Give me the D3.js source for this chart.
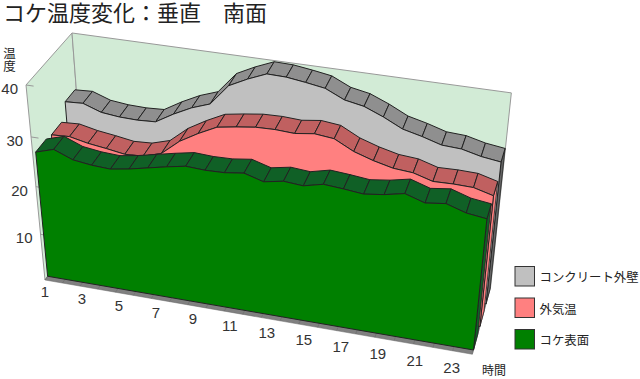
<!DOCTYPE html>
<html>
<head>
<meta charset="utf-8">
<script src="https://cdn.jsdelivr.net/npm/d3@7"></script>
<style>
  html, body { margin: 0; padding: 0; background: #fff; }
  svg { display: block; }
  text { font-family: "Noto Sans CJK JP", "Noto Sans", sans-serif; fill: #222; }
  .num { font-family: "Liberation Sans", sans-serif; fill: #333; }
</style>
</head>
<body>
<div id="chart"></div>
<script>
var hours = [1, 2, 3, 4, 5, 6, 7, 8, 9, 10, 11, 12, 13, 14, 15, 16, 17, 18, 19, 20, 21, 22, 23, 24];
var hourTicks = [1, 3, 5, 7, 9, 11, 13, 15, 17, 19, 21, 23];
var tempTicks = [10, 20, 30, 40];

var wallTemp = [28.9, 29.1, 27.8, 27.4, 27.3, 27.5, 29.6, 31.4, 32.7, 36.8, 38.6, 40.1,
  40, 39.5, 38.9, 37.2, 36.5, 35, 33.2, 32.3, 31.2, 31, 30.1, 29.6];
var airTemp = [25.9, 26.1, 25.3, 24.8, 24.2, 24.4, 25.5, 28.5, 30.6, 32.4, 33, 33.5,
  33.6, 33.4, 33.9, 33.5, 31.6, 30.4, 29.5, 29.2, 28.1, 28.2, 28.1, 27.1];
var mossTemp = [26.3, 27.4, 25.9, 25.4, 25.2, 25.8, 26.6, 27.4, 28.1, 27.9, 28, 28.5,
  27.4, 28.1, 27.8, 28.7, 28.4, 28, 28.5, 29.3, 28.1, 28.6, 27.4, 26.9];

var seriesNames = ["コンクリート外壁", "外気温", "コケ表面"];
var seriesValues = [wallTemp, airTemp, mossTemp];
var faceColors = ["#c0c0c0", "#ff8080", "#008000"];
var topColors = ["#8f8f8f", "#c06060", "#106026"];
var sideColors = ["#666666", "#ff8080", "#106026"];
var depthStart = [0.74, 0.40, 0.06];
var ribbonDepth = 0.23;

var width = 640, height = 379;

var xScale = d3.scaleLinear().domain([1, 24]).range([0, 1]);
var yScale = d3.scaleLinear().domain([0, 40]).range([0, 1]);

// hand fitted perspective, X along hours, Y up, Z into the page
function project(hour, temp, z) {
  var X = xScale(hour), Y = yScale(temp);
  var w = 1 - 0.06 * X - 0.082 * Y + 0.06 * z;
  return [
    (45 + 399 * X - 21.13 * Y + 46.55 * z) / w,
    (280 + 53 * X - 201.97 * Y - 45.76 * z) / w
  ];
}

var svg = d3.select("#chart").append("svg")
  .attr("width", width)
  .attr("height", height);

var line = d3.line();

function quad(points, fill, stroke, sw) {
  svg.append("path")
    .attr("d", line(points) + "Z")
    .attr("fill", fill)
    .attr("stroke", stroke)
    .attr("stroke-width", sw)
    .attr("stroke-linejoin", "round");
}

// walls
var first = hours[0], last = hours[hours.length - 1];
quad([project(first, 0, 0), project(first, 40, 0), project(first, 40, 1), project(first, 0, 1)], "#d2ebd6", "#999", 1);
quad([project(first, 0, 1), project(first, 40, 1), project(last, 40, 1), project(last, 0, 1)], "#d2ebd6", "#999", 1);

// floor
quad([project(first, 0, 0), project(last, 0, 0), project(last, 0, 1), project(first, 0, 1)], "#808080", "#666", 0.5);
hours.forEach(function(h) {
  svg.append("path")
    .attr("d", line([project(h, 0, 0), project(h, 0, 1)]))
    .attr("stroke", "#666")
    .attr("stroke-width", 0.5);
});

// small ticks on the front edge of the left wall
tempTicks.forEach(function(t) {
  svg.append("path")
    .attr("d", line([project(first, t, 0), project(1.4, t, 0)]))
    .attr("stroke", "#999");
});

// series back to front
seriesValues.forEach(function(values, i) {
  var z0 = depthStart[i], z1 = z0 + ribbonDepth;
  var n = hours.length;

  // right hand side
  quad([project(last, 0, z0), project(last, values[n - 1], z0),
    project(last, values[n - 1], z1), project(last, 0, z1)], sideColors[i], "#222", 0.8);

  // top ribbon
  for (var k = 0; k < n - 1; k++) {
    quad([project(hours[k], values[k], z0), project(hours[k + 1], values[k + 1], z0),
      project(hours[k + 1], values[k + 1], z1), project(hours[k], values[k], z1)], topColors[i], "#222", 1);
  }

  // front face
  var face = [project(first, 0, z0)];
  hours.forEach(function(h, k) { face.push(project(h, values[k], z0)); });
  face.push(project(last, 0, z0));
  quad(face, faceColors[i], "#222", 1);
});

// title
svg.append("text")
  .attr("x", 3)
  .attr("y", 21)
  .attr("font-size", 22)
  .text("コケ温度変化：垂直　南面");

// temperature axis, set vertically
svg.append("text")
  .attr("x", 9.5)
  .attr("y", 47)
  .attr("font-size", 12.5)
  .attr("writing-mode", "vertical-rl")
  .text("温度");

tempTicks.forEach(function(t) {
  var p = project(first, t, 0);
  svg.append("text")
    .attr("class", "num")
    .attr("x", p[0] - 8)
    .attr("y", p[1] + 9)
    .attr("text-anchor", "end")
    .attr("font-size", 15)
    .text(t);
});

// hour axis
var labelX = d3.scaleLinear().domain([1, 23]).range([45, 451.7]);
var labelY = d3.scaleLinear().domain([1, 23]).range([297, 372.5]);
hourTicks.forEach(function(h) {
  svg.append("text")
    .attr("class", "num")
    .attr("x", labelX(h))
    .attr("y", labelY(h))
    .attr("text-anchor", "middle")
    .attr("font-size", 15)
    .text(h);
});
svg.append("text").attr("x", 482).attr("y", 375).attr("font-size", 12).text("時間");

// legend
var legendY = d3.scalePoint().domain(seriesNames).range([266.5, 329.5]);
seriesNames.forEach(function(name, i) {
  svg.append("rect")
    .attr("x", 515)
    .attr("y", legendY(name))
    .attr("width", 19.5)
    .attr("height", 19.5)
    .attr("fill", faceColors[i])
    .attr("stroke", "#333");
  svg.append("text")
    .attr("x", 539.5)
    .attr("y", legendY(name) + 15.5)
    .attr("font-size", 12.4)
    .text(name);
});
</script>
</body>
</html>
